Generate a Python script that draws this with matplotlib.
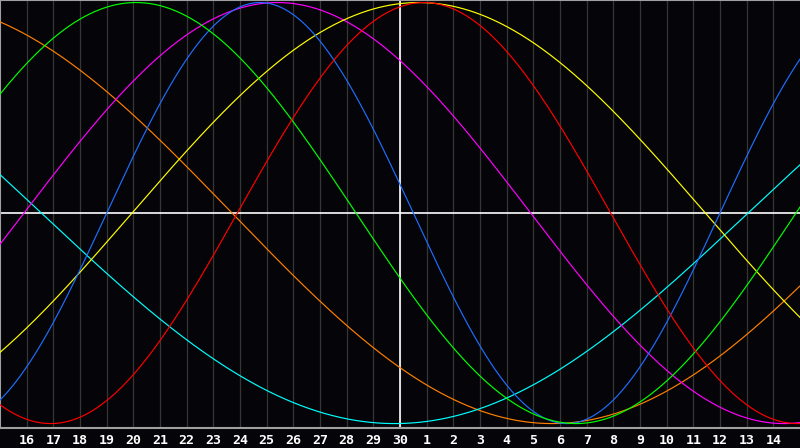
import numpy as np
import matplotlib
matplotlib.use("Agg")
import matplotlib.pyplot as plt

# day labels along the bottom (one per grid line), x = 0 is the 15th
day_labels = [16, 17, 18, 19, 20, 21, 22, 23, 24, 25, 26, 27, 28, 29, 30,
              1, 2, 3, 4, 5, 6, 7, 8, 9, 10, 11, 12, 13, 14]

# cycles: period in days and day position of the peak
cycle_names = ["awareness", "spiritual", "intuitive", "aesthetic", "physical", "intellectual", "emotional"]
cycle_periods = [48, 53, 38, 43, 23, 33, 28]
cycle_peaks = [-3.3, -11.7, 10.4, 15.7, 9.75, 5.1, 15.9]
cycle_colors = ["#ff8000", "#00ffff", "#ff00ff", "#ffff00", "#1e6eff", "#00ff00", "#ff0000"]

BG = "#050408"


def plot_biorhythm():
    fig = plt.figure(figsize=(8, 4.48), dpi=100, facecolor=BG)
    ax = fig.add_axes([0, 20 / 448, 1, 428 / 448])
    ax.set_facecolor(BG)

    n_days = len(day_labels) + 1
    t = np.linspace(0, n_days, 801)

    # grid lines for each day
    for i in range(1, n_days):
        ax.axvline(i, color="#363636", lw=0.9, zorder=1)

    # today marker and zero line
    ax.axvline(15, color="white", lw=1.2, zorder=2)
    ax.axhline(0, color="white", lw=1.2, zorder=2)

    for period, peak, color in zip(cycle_periods, cycle_peaks, cycle_colors):
        v = np.cos(2 * np.pi * (t - peak) / period)
        ax.plot(t, v, color=color, lw=0.85, zorder=3)

    ax.set_xlim(0, n_days)
    ax.set_ylim(-1.021, 1.012)

    ax.set_xticks(range(1, n_days))
    ax.set_xticklabels([str(d) for d in day_labels])
    ax.tick_params(axis="x", length=0, pad=4, colors="white", labelsize=9.5)
    for lbl in ax.get_xticklabels():
        lbl.set_fontfamily("DejaVu Sans Mono")
        lbl.set_fontweight("bold")
    ax.set_yticks([])

    for side in ["left", "top", "bottom"]:
        ax.spines[side].set_color("#a0a0a0")
        ax.spines[side].set_linewidth(1.5)
    ax.spines["right"].set_visible(False)

    fig.savefig("out.png", dpi=100, facecolor=BG)


if __name__ == "__main__":
    plot_biorhythm()
